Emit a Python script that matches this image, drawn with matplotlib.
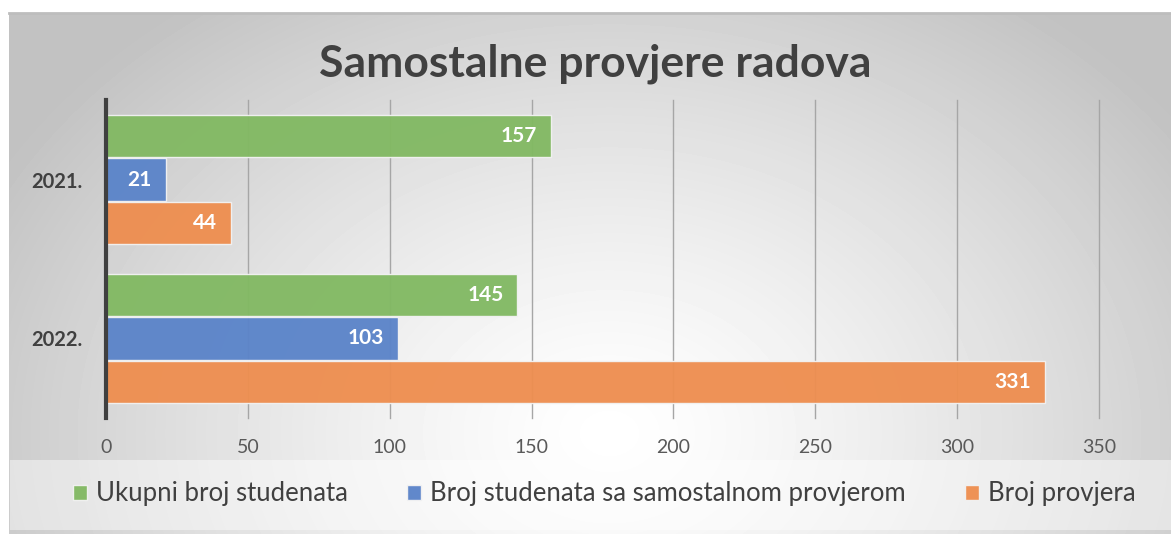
import numpy as np
import matplotlib.pyplot as plt
from matplotlib.patches import Rectangle
from matplotlib.transforms import blended_transform_factory

# podaci
godine = ['2021.', '2022.']
ukupno = [157, 145]
sa_provjerom = [21, 103]
provjere = [44, 331]
serije = ['Ukupni broj studenata', 'Broj studenata sa samostalnom provjerom', 'Broj provjera']
boje = ['#82b963', '#5b84c9', '#ee8e50']

plt.rcParams['font.family'] = ['Lato', 'DejaVu Sans']

fig = plt.figure(figsize=(11.71, 5.34), dpi=100)

# pozadina s radijalnim gradijentom
bg = fig.add_axes([9 / 1171, 0, 1 - 9 / 1171, 1 - 13 / 534])
bg.set_zorder(0)
yy, xx = np.mgrid[0:521, 0:1162]
dist = np.sqrt(((xx - 600) / 1.0) ** 2 + ((yy - 420) * 1.3) ** 2)
val = 1 - 0.24 * np.clip(dist / 700, 0, 1) ** 1.3
bg.imshow(val, cmap='gray', vmin=0, vmax=1, aspect='auto', extent=(0, 1, 0, 1), origin='upper')
bg.set_axis_off()
fig.add_artist(plt.Line2D([9 / 1171, 1], [1 - 13 / 534] * 2, color='#bdbdbd', lw=2, zorder=0.5))

# legenda - svjetlija pozadina
fig.add_artist(Rectangle((10 / 1171, 4 / 534), 1 - 10 / 1171, 70 / 534, transform=fig.transFigure,
                         facecolor='white', alpha=0.45, edgecolor='none', zorder=0.5))

ax = fig.add_axes([106 / 1171, 1 - 418 / 534, (1099 - 106) / 1171, 318 / 534])
ax.set_zorder(2)
ax.patch.set_alpha(0)
y = np.arange(len(godine))
h = 0.265
pomak = 0.275
for i, (vrijednosti, boja) in enumerate(zip([ukupno, sa_provjerom, provjere], boje)):
    bars = ax.barh(y + (i - 1) * pomak, vrijednosti, height=h, color=boja, edgecolor='#f2f2f2',
                   linewidth=1, label=serije[i], alpha=0.96, zorder=3)
    for b, v in zip(bars, vrijednosti):
        ax.text(b.get_width() - 14 * 350 / 993, b.get_y() + b.get_height() / 2, str(v),
                ha='right', va='center', color='white', fontsize=15, fontweight='bold', zorder=4)

ax.set_xlim(0, 350)
ax.set_ylim(1.5, -0.5)
for s in ax.spines.values():
    s.set_visible(False)

# mreza - linije samo unutar podrucja crtanja, ispod stupaca
tr = blended_transform_factory(ax.transData, fig.transFigure)
y_top, y_bot = 1 - 100 / 534, 1 - 418 / 534
for xv in range(50, 351, 50):
    fig.add_artist(plt.Line2D([xv, xv], [y_bot, y_top], transform=tr, color='#a6a6a6', lw=1, zorder=1))
ax.axvline(0, ymin=0, ymax=1, color='#404040', lw=3, clip_on=False, zorder=5)

ax.set_xticks(range(0, 351, 50))
ax.tick_params(axis='x', length=0, width=0, pad=15, labelsize=14, labelcolor='#595959')
ax.set_yticks(y)
ax.set_yticklabels(godine, fontsize=14.5, fontweight='bold', color='#404040')
ax.tick_params(axis='y', length=0, width=0, pad=17)

fig.text(0.508, 1 - 64 / 534, 'Samostalne provjere radova', ha='center', va='center',
         fontsize=32, fontweight='bold', color='#404040')

h_, l_ = ax.get_legend_handles_labels()
fig.legend(h_, l_, loc='center', bbox_to_anchor=(0.516, 1 - 494 / 534), ncol=3, frameon=False,
           fontsize=18.5, handlelength=0.55, handleheight=0.55, handletextpad=0.35, columnspacing=2.3,
           labelcolor='#404040')

plt.savefig('out.png', dpi=100)
